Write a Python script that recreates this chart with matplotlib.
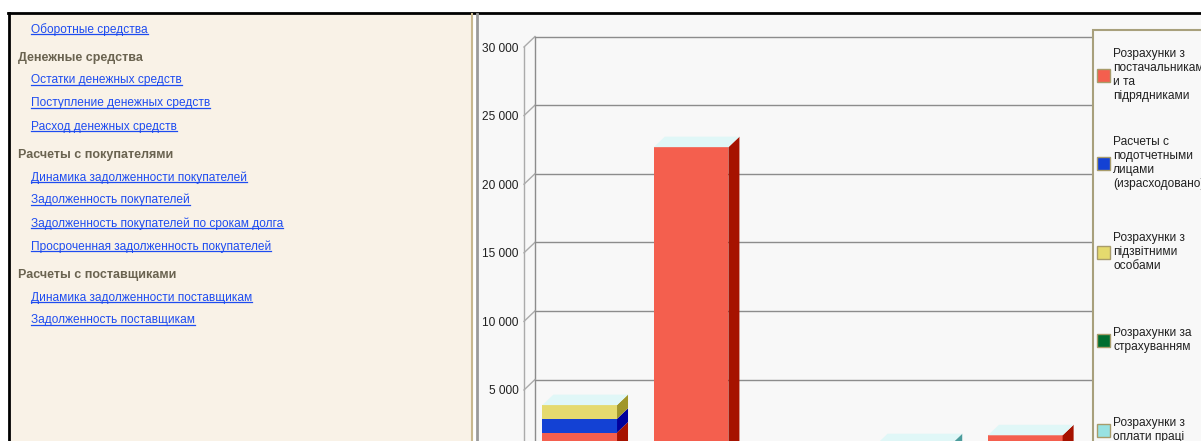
import matplotlib
matplotlib.use("Agg")
import matplotlib.pyplot as plt
from matplotlib.patches import Rectangle, Polygon
from matplotlib.lines import Line2D

# ---------------- data ----------------
categories = ["1", "2", "3", "4", "5"]
series_names = [
    "Розрахунки з\nпостачальникам\nи та\nпідрядниками",
    "Расчеты с\nподотчетными\nлицами\n(израсходовано)",
    "Розрахунки з\nпідзвітними\nособами",
    "Розрахунки за\nстрахуванням",
    "Розрахунки з\nоплати праці",
]
s_suppliers = [1900, 22700, 0, 0, 1700]
s_accountable = [1000, 0, 0, 0, 0]
s_accountable_ua = [1000, 0, 0, 0, 0]
s_insurance = [0, 0, 0, 0, 0]
s_salary = [0, 0, 0, 1050, 0]
series_values = [s_suppliers, s_accountable, s_accountable_ua, s_insurance, s_salary]
y_ticks = [5000, 10000, 15000, 20000, 25000, 30000]
y_tick_labels = ["5 000", "10 000", "15 000", "20 000", "25 000", "30 000"]

nav_items = [
    ("link", "Оборотные средства"),
    ("head", "Денежные средства"),
    ("link", "Остатки денежных средств"),
    ("link", "Поступление денежных средств"),
    ("link", "Расход денежных средств"),
    ("head", "Расчеты с покупателями"),
    ("link", "Динамика задолженности покупателей"),
    ("link", "Задолженность покупателей"),
    ("link", "Задолженность покупателей по срокам долга"),
    ("link", "Просроченная задолженность покупателей"),
    ("head", "Расчеты с поставщиками"),
    ("link", "Динамика задолженности поставщикам"),
    ("link", "Задолженность поставщикам"),
]
nav_y = [29, 58, 80, 103, 126, 155, 177, 200, 223, 246, 275, 297, 320]

# ---------------- styles ----------------
front_colors = ["#F45F4E", "#1341D4", "#E5DA6E", "#006E30", "#98E2E2"]
side_colors = ["#A61200", "#00009C", "#A0962A", "#003A18", "#4C9C9C"]
top_color = "#E0F7F7"
FONT = "Liberation Sans"

W, H = 1201, 441
fig = plt.figure(figsize=(W / 100, H / 100), dpi=100)
fig.patch.set_facecolor("white")

def fx(px):
    return px / W

def fy(py):
    return 1 - py / H

# backgrounds
fig.patches.append(Rectangle((fx(10), 0), fx(471) - fx(10), fy(14), transform=fig.transFigure,
                             facecolor="#F9F2E7", edgecolor="none", zorder=-10))
fig.patches.append(Rectangle((fx(478), 0), 1 - fx(478), fy(14), transform=fig.transFigure,
                             facecolor="#F8F8F8", edgecolor="none", zorder=-10))
# borders
fig.add_artist(Line2D([fx(8), 1], [fy(13), fy(13)], color="black", lw=2, transform=fig.transFigure, zorder=-5))
fig.add_artist(Line2D([fx(9), fx(9)], [0, fy(13)], color="black", lw=2, transform=fig.transFigure, zorder=-5))
fig.add_artist(Line2D([fx(471.5), fx(471.5)], [0, fy(14)], color="#C8B88E", lw=1.5, transform=fig.transFigure, zorder=-5))
fig.add_artist(Line2D([fx(477), fx(477)], [0, fy(14)], color="#9A9A9A", lw=2, transform=fig.transFigure, zorder=-5))

# ---------------- left navigation panel ----------------
renderer = fig.canvas.get_renderer()
for (kind, label), yc in zip(nav_items, nav_y):
    if kind == "head":
        fig.text(fx(18), fy(yc), label, fontsize=9.0, fontweight="bold", color="#6A6350",
                 family=FONT, va="center", ha="left")
    else:
        t = fig.text(fx(31), fy(yc + 3.5), label, fontsize=8.6, color="#1E4CF0",
                     family=FONT, va="baseline", ha="left")
        bb = t.get_window_extent(renderer=renderer)
        fig.add_artist(Line2D([fx(31), fx(31) + bb.width / W], [fy(yc + 5), fy(yc + 5)],
                              color="#1E4CF0", lw=0.9, transform=fig.transFigure))

# ---------------- chart ----------------
zero_px, top_px = 458.6, 47
left_px, right_px = 524, 1081
ax = fig.add_axes([fx(left_px), fy(zero_px), (right_px - left_px) / W, (zero_px - top_px) / H])
ax.set_xlim(-0.5, len(categories) - 0.5)
ax.set_ylim(0, 30000)
ax.patch.set_visible(False)
for s in ax.spines.values():
    s.set_visible(False)
ax.set_xticks([])
ax.set_yticks(y_ticks)
ax.set_yticklabels(y_tick_labels, fontsize=8.6, family=FONT, color="#202020")
ax.tick_params(axis="y", length=0, pad=4)

# depth offset (pixels -> data units)
p0 = ax.transData.transform((0, 0))
inv = ax.transData.inverted()
dpx, dpy = 11, 10.5
q = inv.transform((p0[0] + dpx, p0[1] + dpy))
dx, dy = q[0], q[1]

x0, x1 = -0.5, len(categories) - 0.5
ymax = 30000
grid_c = "#8C8C8C"
wall_c = "#ABABAB"
# left wall
ax.add_line(Line2D([x0, x0], [0, ymax], color=wall_c, lw=1, clip_on=False, zorder=1))
ax.add_line(Line2D([x0 + dx, x0 + dx], [0, ymax + dy], color=grid_c, lw=1, clip_on=False, zorder=1))
for t in y_ticks:
    ax.add_line(Line2D([x0, x0 + dx], [t, t + dy], color=wall_c, lw=1, clip_on=False, zorder=1))
    ax.add_line(Line2D([x0 + dx, x1 + dx], [t + dy, t + dy], color=grid_c, lw=1, clip_on=False, zorder=1))

# bars
width = 0.67
bottoms = [0] * len(categories)
tops_idx = [None] * len(categories)
for si, vals in enumerate(series_values):
    for ci, v in enumerate(vals):
        if v > 0:
            tops_idx[ci] = si

for si, vals in enumerate(series_values):
    ax.bar(range(len(categories)), vals, width=width, bottom=bottoms, color=front_colors[si],
           edgecolor="none", clip_on=False, zorder=3)
    for ci, v in enumerate(vals):
        if v <= 0:
            continue
        b = bottoms[ci]
        xr = ci + width / 2
        xl = ci - width / 2
        side = Polygon([(xr, b), (xr, b + v), (xr + dx, b + v + dy), (xr + dx, b + dy)],
                       closed=True, facecolor=side_colors[si], edgecolor="none",
                       clip_on=False, zorder=3)
        ax.add_patch(side)
        if tops_idx[ci] == si:
            topf = Polygon([(xl, b + v), (xr, b + v), (xr + dx, b + v + dy), (xl + dx, b + v + dy)],
                           closed=True, facecolor=top_color, edgecolor="none",
                           clip_on=False, zorder=4)
            ax.add_patch(topf)
    bottoms = [bb + vv for bb, vv in zip(bottoms, vals)]

# ---------------- legend ----------------
fig.patches.append(Rectangle((fx(1092.5), -0.05), 0.2, fy(29.5) + 0.05, transform=fig.transFigure,
                             facecolor="#F8F8F8", edgecolor="#A8A07C", lw=1.5, zorder=5))
legend_y = [75, 163, 252, 340, 430]
for name, fc, yc in zip(series_names, front_colors, legend_y):
    fig.patches.append(Rectangle((fx(1097), fy(yc + 6.5)), 13 / W, 13 / H, transform=fig.transFigure,
                                 facecolor=fc, edgecolor="#A89C6A", lw=1, zorder=6))
    fig.text(fx(1113), fy(yc), name, fontsize=8.6, family=FONT, color="#202020",
             va="center", ha="left", linespacing=1.2, zorder=7)

fig.savefig("out.png", dpi=100)
